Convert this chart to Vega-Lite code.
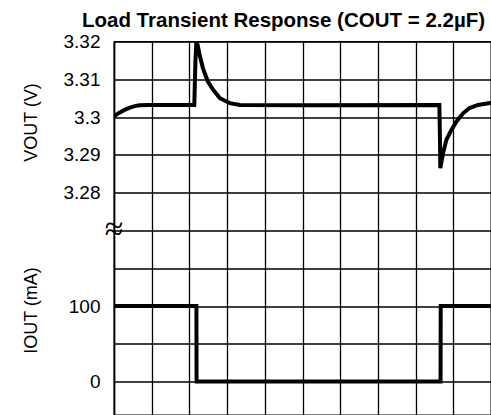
{
  "$schema": "https://vega.github.io/schema/vega-lite/v6.json",
  "autosize": "none",
  "padding": {"left": 114, "top": 41.5, "right": 0, "bottom": 0},
  "width": 377,
  "height": 373.5,
  "background": "white",
  "title": {
    "text": "Load Transient Response (COUT = 2.2µF)",
    "font": "Liberation Sans",
    "fontSize": 20.5,
    "fontWeight": "bold",
    "color": "black",
    "anchor": "middle",
    "frame": "group",
    "dx": -19,
    "dy": 28,
    "offset": 13,
    "baseline": "alphabetic"
  },
  "config": {
    "view": {"stroke": "black", "strokeWidth": 1.3},
    "axis": {
      "labelFont": "Liberation Sans",
      "labelFontSize": 19,
      "labelColor": "black",
      "titleFont": "Liberation Sans",
      "titleFontSize": 18,
      "titleFontWeight": "normal",
      "titleColor": "black",
      "gridColor": "black",
      "gridOpacity": 1,
      "gridWidth": 1.3,
      "ticks": false,
      "tickSize": 0
    }
  },
  "datasets": {
    "vout": [
      {"t": 0.00, "v": 3.3002},
      {"t": 0.13, "v": 3.3011},
      {"t": 0.28, "v": 3.3019},
      {"t": 0.42, "v": 3.3025},
      {"t": 0.55, "v": 3.3029},
      {"t": 0.68, "v": 3.3031},
      {"t": 0.95, "v": 3.3032},
      {"t": 2.13, "v": 3.3032},
      {"t": 2.16, "v": 3.3150},
      {"t": 2.186, "v": 3.3200},
      {"t": 2.22, "v": 3.3190},
      {"t": 2.27, "v": 3.3165},
      {"t": 2.36, "v": 3.3129},
      {"t": 2.49, "v": 3.3094},
      {"t": 2.63, "v": 3.3072},
      {"t": 2.81, "v": 3.3050},
      {"t": 3.07, "v": 3.3037},
      {"t": 3.34, "v": 3.3032},
      {"t": 5.00, "v": 3.3031},
      {"t": 8.63, "v": 3.3032},
      {"t": 8.645, "v": 3.2950},
      {"t": 8.655, "v": 3.2865},
      {"t": 8.727, "v": 3.2904},
      {"t": 8.817, "v": 3.2940},
      {"t": 8.95, "v": 3.2966},
      {"t": 9.08, "v": 3.2988},
      {"t": 9.26, "v": 3.3010},
      {"t": 9.43, "v": 3.3024},
      {"t": 9.655, "v": 3.3032},
      {"t": 9.97, "v": 3.3037},
      {"t": 10.0, "v": 3.3037}
    ],
    "iout": [
      {"t": 0.0, "i": 100},
      {"t": 2.186, "i": 100},
      {"t": 2.19, "i": 0},
      {"t": 8.662, "i": 0},
      {"t": 8.666, "i": 100},
      {"t": 10.0, "i": 100}
    ],
    "brk": [
      {"t": 0, "v": 3.27, "label": "≈"}
    ]
  },
  "encoding": {
    "x": {
      "field": "t", "type": "quantitative",
      "scale": {"domain": [0, 10], "nice": false, "zero": false},
      "axis": {
        "values": [0, 1, 2, 3, 4, 5, 6, 7, 8, 9, 10],
        "grid": true, "labels": false, "domain": false, "title": null
      }
    }
  },
  "layer": [
    {
      "layer": [
        {
          "data": {"name": "vout"},
          "mark": {"type": "line", "color": "black", "strokeWidth": 4, "clip": true, "interpolate": "linear"},
          "encoding": {
            "y": {
              "field": "v", "type": "quantitative",
              "scale": {"domain": [3.22117, 3.32], "nice": false, "zero": false},
              "axis": {
                "orient": "left",
                "values": [3.23, 3.24, 3.25, 3.26, 3.27, 3.28, 3.29, 3.30, 3.31, 3.32],
                "grid": true,
                "domain": true, "domainColor": "black", "domainWidth": 1.5,
                "labelPadding": 14,
                "labelExpr": "datum.value > 3.275 ? format(datum.value, '.3~r') : ''",
                "title": "VOUT (V)",
                "titleAngle": 270,
                "titleAlign": "center",
                "titleBaseline": "middle",
                "titleX": -83,
                "titleY": 80.5
              }
            },
            "order": {"field": "t", "type": "quantitative"}
          }
        },
        {
          "data": {"name": "brk"},
          "mark": {"type": "text", "font": "DejaVu Sans", "fontSize": 34, "fontWeight": 200, "color": "black", "align": "center", "baseline": "middle", "clip": false},
          "encoding": {
            "y": {"field": "v", "type": "quantitative"},
            "text": {"field": "label"}
          }
        }
      ]
    },
    {
      "data": {"name": "iout"},
      "mark": {"type": "line", "color": "black", "strokeWidth": 4, "clip": true},
      "encoding": {
        "y": {
          "field": "i", "type": "quantitative",
          "scale": {"domain": [-44.17, 450], "nice": false, "zero": false},
          "axis": {
            "orient": "left",
            "values": [0, 100],
            "grid": false,
            "domain": false,
            "labelPadding": 14,
            "title": "IOUT (mA)",
            "titleAngle": 270,
            "titleAlign": "center",
            "titleBaseline": "middle",
            "titleX": -83,
            "titleY": 268.5
          }
        },
        "order": {"field": "t", "type": "quantitative"}
      }
    }
  ],
  "resolve": {"scale": {"y": "independent"}}
}
